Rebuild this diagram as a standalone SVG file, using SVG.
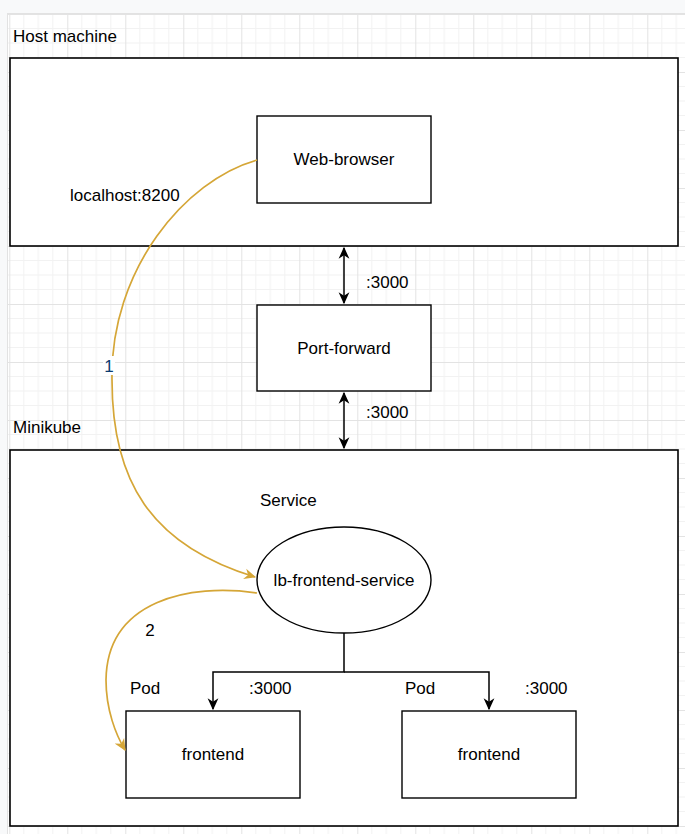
<svg xmlns="http://www.w3.org/2000/svg" width="685" height="834" viewBox="0 0 685 834">
<defs>
<pattern id="grid" x="9.3" y="14" width="58" height="58" patternUnits="userSpaceOnUse">
<rect width="58" height="58" fill="#ffffff"/>
<path d="M14.5 0V58M29 0V58M43.5 0V58M0 14.5H58M0 29H58M0 43.5H58" stroke="#f2f2f2" stroke-width="1" fill="none"/>
<path d="M0.5 0V58M0 0.5H58" stroke="#e3e3e3" stroke-width="1" fill="none"/>
</pattern>
<marker id="ab" viewBox="0 0 10 10" refX="9" refY="5" markerWidth="12" markerHeight="12" markerUnits="userSpaceOnUse" orient="auto-start-reverse">
<path d="M0 0.5L10 5L0 9.5L3 5Z" fill="#000"/>
</marker>
<marker id="ao" viewBox="0 0 10 10" refX="9" refY="5" markerWidth="12" markerHeight="12" markerUnits="userSpaceOnUse" orient="auto">
<path d="M0 0.5L10 5L0 9.5L3 5Z" fill="#d5a637"/>
</marker>
</defs>
<style>
text{font-family:"Liberation Sans",Arial,sans-serif;font-size:17px;fill:#000}
.c{text-anchor:middle}
.box{fill:#fff;stroke:#000;stroke-width:1.4}
.cont{fill:#fff;stroke:#000;stroke-width:1.6}
.blk{fill:none;stroke:#000;stroke-width:1.5}
.org{fill:none;stroke:#d5a637;stroke-width:1.7}
</style>
<rect width="685" height="834" fill="#f8f9fa"/>
<rect x="7.5" y="13.5" width="680" height="830" fill="url(#grid)" stroke="#e2e2e2"/>

<g id="host-machine">
<rect class="cont" x="10" y="58" width="668" height="188"/>
<text x="13" y="42">Host machine</text>
</g>
<g id="minikube">
<rect class="cont" x="10" y="450" width="668" height="376"/>
<text x="13" y="433">Minikube</text>
</g>
<g id="web-browser">
<rect class="box" x="257" y="116" width="174" height="87"/>
<text class="c" x="344" y="165">Web-browser</text>
</g>
<g id="port-forward">
<rect class="box" x="257" y="305" width="174" height="86"/>
<text class="c" x="344" y="354">Port-forward</text>
</g>
<g id="service">
<text x="260" y="506">Service</text>
<ellipse cx="344" cy="580" rx="87" ry="53" fill="#fff" stroke="#000" stroke-width="1.4"/>
<text class="c" x="344" y="586">lb-frontend-service</text>
</g>
<g id="pod-1">
<text x="130" y="694">Pod</text>
<rect class="box" x="126" y="711" width="174" height="87"/>
<text class="c" x="213" y="760">frontend</text>
</g>
<g id="pod-2">
<text x="405" y="694">Pod</text>
<rect class="box" x="402" y="711" width="174" height="87"/>
<text class="c" x="489" y="760">frontend</text>
</g>

<g id="connectors">
<path class="blk" d="M344 248V303" marker-start="url(#ab)" marker-end="url(#ab)"/>
<path class="blk" d="M344 393V448" marker-start="url(#ab)" marker-end="url(#ab)"/>
<path class="blk" d="M344 633V672H213V709" marker-end="url(#ab)"/>
<path class="blk" d="M344 672H489V709" marker-end="url(#ab)"/>
<path class="org" d="M257 160C185 180 110 270 112 380C112 480 150 545 255 577" marker-end="url(#ao)"/>
<path class="org" d="M257 593C190 583 107 600 106 680C106 710 116 735 125 750" marker-end="url(#ao)"/>
<text x="366" y="288">:3000</text>
<text x="366" y="418">:3000</text>
<text x="249" y="694">:3000</text>
<text x="525" y="694">:3000</text>
<text x="70" y="201">localhost:8200</text>
<rect x="103" y="356" width="12" height="19" fill="#fff"/>
<text class="c" x="109" y="372" style="fill:#0b3b70">1</text>
<text class="c" x="150" y="636">2</text>
</g>
</svg>
